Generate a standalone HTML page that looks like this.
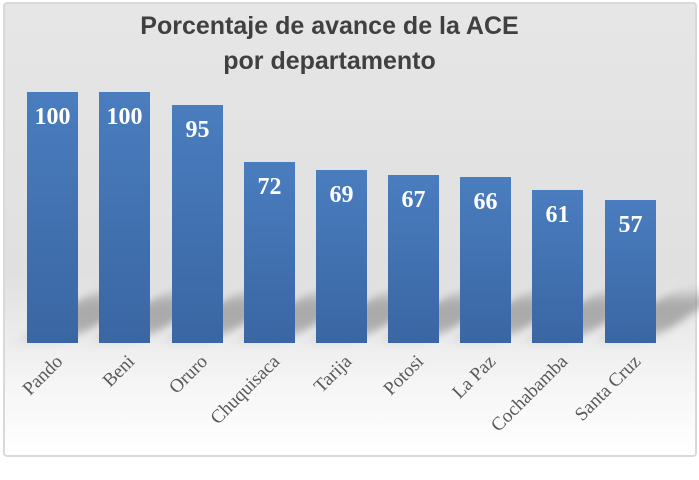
<!DOCTYPE html>
<html><head><meta charset="utf-8"><style>
body{margin:0;width:699px;height:458px;overflow:hidden;background:#fff}
.c{position:absolute;left:3px;top:2px;width:690px;height:451px;border:2px solid #d9d9d9;border-radius:4px;background:linear-gradient(#e6e6e6 0%,#e0e0e0 60%,#f6f6f6 85%,#fff 100%);overflow:hidden}
.t{position:absolute;left:0;width:659px;text-align:center;font-family:"Liberation Sans",sans-serif;font-weight:bold;font-size:25px;color:#404040;line-height:35px;top:9px}
.b{position:absolute;width:51px;background:linear-gradient(#4a7dbf,#3a66a3);}
.v{position:absolute;width:51px;text-align:center;font-family:"Liberation Serif",serif;font-weight:bold;font-size:24px;color:#fff}
.s{position:absolute;width:55px;height:40px;background:rgba(120,120,120,.55);filter:blur(7px);transform:skewX(-55deg)}
.l{position:absolute;font-family:"Liberation Serif",serif;font-size:19px;color:#595959;transform-origin:100% 50%;transform:rotate(-45deg);white-space:nowrap;text-align:right;width:160px;height:22px;line-height:22px}
</style></head><body>
<div class="c"></div>
<div class="t">Porcentaje de avance de la ACE<br>por departamento</div>
<div id="g"></div>
<script>
var d=[["Pando",100,27],["Beni",100,99],["Oruro",95,172],["Chuquisaca",72,244],["Tarija",69,316],["Potosi",67,388],["La Paz",66,460],["Cochabamba",61,532],["Santa Cruz",57,605]];
var h="";
d.forEach(function(e){
h+='<div class="s" style="left:'+(e[2]+30)+'px;top:295px"></div>';});
d.forEach(function(e){var ht=Math.round(e[1]*2.51),top=343-ht;
h+='<div class="b" style="left:'+e[2]+'px;top:'+top+'px;height:'+ht+'px"></div>';
h+='<div class="v" style="left:'+e[2]+'px;top:'+(top+12)+'px">'+e[1]+'</div>';
h+='<div class="l" style="left:'+(e[2]+33-160)+'px;top:348px">'+e[0]+'</div>';});
document.getElementById("g").innerHTML=h;
</script>
</body></html>
